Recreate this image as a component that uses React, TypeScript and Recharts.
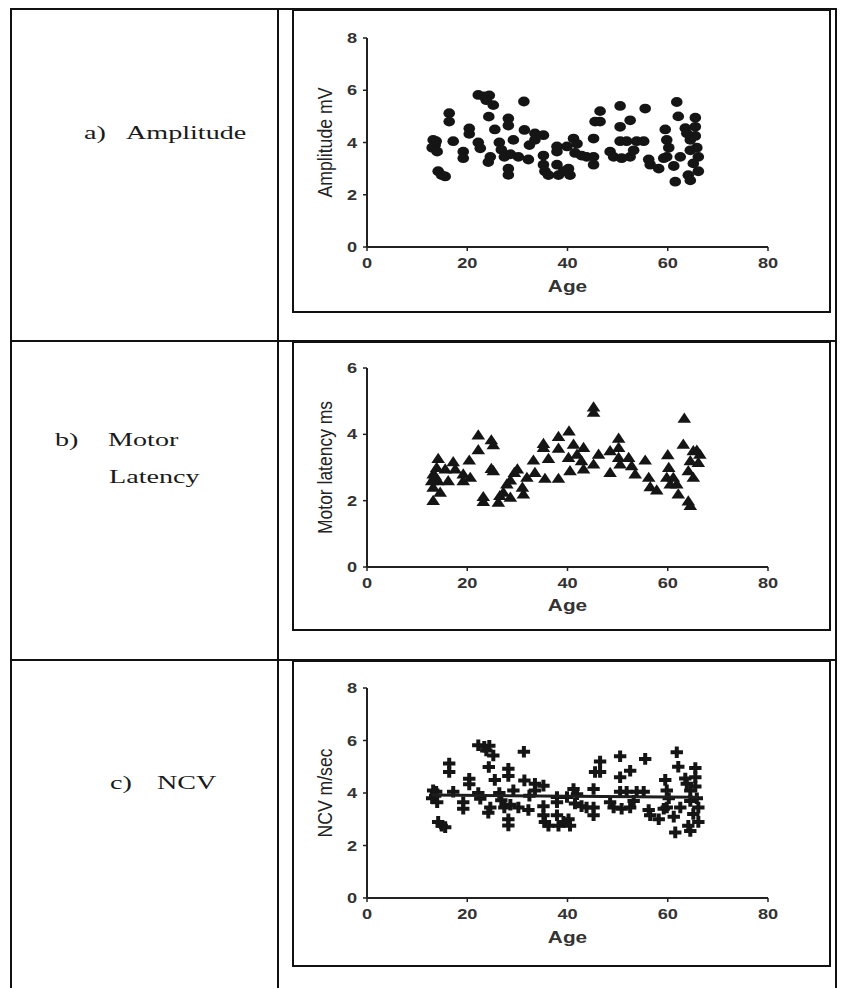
import { ScatterChart, Scatter, XAxis, YAxis } from 'recharts';

// a) amplitude (mV) against age; panel c) plots the same readings
const ampAges = [
  13.2, 13.6, 13.0, 14.0, 13.8, 14.2, 14.9, 15.6, 16.4, 16.4, 17.2, 19.2, 19.2, 20.4, 20.4,
  22.2, 23.4, 24.4, 23.8, 22.2, 22.6, 24.3, 25.2, 25.5, 24.6, 24.2, 26.4, 26.8, 27.4, 28.2,
  28.2, 28.2, 28.2, 29.2, 28.6, 30.2, 31.3, 31.4, 32.4, 32.2, 33.5, 33.5, 35.2, 35.2, 35.2,
  35.5, 36.2, 37.9, 37.9, 37.9, 38.2, 39.2, 40.5, 40.2, 39.9, 41.2, 41.9, 41.5, 42.8, 43.8,
  45.2, 45.2, 45.2, 45.5, 46.5, 46.5, 48.5, 49.2, 50.5, 50.5, 50.5, 50.8, 52.5, 51.8, 52.5,
  53.2, 53.8, 55.2, 55.5, 56.2, 56.5, 58.2, 59.5, 59.8, 60.2, 59.8, 59.2, 61.8, 62.1, 61.2,
  61.5, 62.5, 63.5, 63.8, 64.5, 65.5, 65.5, 65.5, 64.1, 64.5, 66.1, 66.1, 65.1, 64.5, 65.8,
];
const ampValues = [
  4.1, 3.9, 3.8, 3.65, 4.05, 2.9, 2.75, 2.7, 5.12, 4.8, 4.05, 3.65, 3.4, 4.54, 4.33,
  5.82, 5.76, 5.8, 5.62, 4.0, 3.78, 4.99, 5.43, 4.5, 3.45, 3.25, 4.0, 3.72, 3.45, 4.92,
  4.65, 3.0, 2.76, 4.1, 3.55, 3.45, 5.57, 4.48, 3.9, 3.35, 4.35, 4.1, 4.28, 3.5, 3.15,
  2.9, 2.75, 3.85, 3.65, 3.15, 2.75, 2.9, 2.75, 3.0, 3.85, 4.15, 3.95, 3.6, 3.5, 3.45,
  3.45, 3.15, 4.15, 4.8, 4.8, 5.2, 3.65, 3.45, 5.4, 4.6, 4.05, 3.4, 4.85, 4.05, 3.45,
  3.7, 4.05, 4.05, 5.3, 3.35, 3.15, 3.0, 4.5, 4.1, 3.8, 3.45, 3.4, 5.55, 5.0, 3.1,
  2.5, 3.45, 4.55, 4.35, 4.1, 4.95, 4.6, 4.25, 2.75, 2.55, 2.9, 3.45, 3.2, 3.7, 3.8,
];

// b) motor latency (ms) against age
const latAges = [
  13.2, 13.2, 13.2, 13.9, 14.2, 14.2, 14.6, 12.9, 13.6, 15.6, 16.2, 17.2, 17.6, 19.2, 19.2,
  20.4, 20.6, 22.2, 22.2, 23.2, 23.2, 24.8, 25.2, 24.8, 25.2, 26.2, 26.5, 27.2, 27.9, 28.6,
  29.4, 30.0, 28.6, 31.0, 31.2, 31.9, 33.2, 33.5, 35.2, 35.2, 35.5, 36.2, 38.2, 38.2, 38.2,
  40.3, 40.2, 40.5, 41.2, 41.9, 42.8, 43.2, 43.2, 45.2, 45.2, 45.2, 46.2, 48.5, 48.5, 50.2,
  50.2, 50.2, 50.5, 52.2, 52.8, 53.5, 55.5, 56.2, 56.5, 57.8, 60.0, 60.2, 59.8, 60.5, 61.1,
  61.8, 62.1, 63.3, 63.1, 64.1, 64.5, 64.1, 64.5, 65.1, 65.8, 65.1, 66.1, 66.4,
];
const latValues = [
  2.0, 2.4, 2.8, 3.0, 3.27, 2.6, 2.25, 2.6, 2.75, 2.95, 2.6, 3.17, 2.95, 2.8, 2.6,
  3.22, 2.7, 3.98, 3.53, 2.12, 1.97, 3.83, 3.68, 2.97, 2.9, 1.95, 2.15, 2.25, 2.5, 2.62,
  2.85, 2.95, 2.1, 2.4, 2.2, 2.7, 3.22, 2.85, 3.72, 3.6, 2.67, 3.27, 3.93, 3.58, 2.67,
  4.1, 3.3, 2.9, 3.7, 3.4, 3.2, 3.6, 2.95, 4.82, 4.66, 3.1, 3.4, 2.85, 3.5, 3.88,
  3.6, 3.3, 3.1, 3.3, 3.05, 2.8, 3.22, 2.7, 2.42, 2.32, 3.38, 3.0, 2.7, 2.5, 2.7,
  2.5, 2.2, 4.48, 3.7, 1.99, 1.85, 2.9, 3.2, 3.5, 3.52, 2.7, 3.15, 3.4,
];

// c) NCV (m/sec) against age, same readings as panel a), plus its fitted line
const ncvAges = ampAges;
const ncvValues = ampValues;
const ncvFitAges = [13, 66];
const ncvFitValues = [3.92, 3.84];

const ageTicks = [0, 20, 40, 60, 80];
const ampTicks = [0, 2, 4, 6, 8];
const latTicks = [0, 2, 4, 6];

const toPoints = (xs: number[], ys: number[]) => xs.map((age, i) => ({ age, value: ys[i] }));

const sans = 'Liberation Sans, Arial, sans-serif';
const serif = 'Liberation Serif, Times New Roman, serif';
const ink = '#151515';

const DotShape = (p: any) => <ellipse cx={p.cx} cy={p.cy} rx={5.8} ry={4.9} fill={ink} />;
const TriShape = (p: any) => (
  <polygon points={`${p.cx},${p.cy - 5.8} ${p.cx - 6.8},${p.cy + 4.4} ${p.cx + 6.8},${p.cy + 4.4}`} fill={ink} />
);
const PlusShape = (p: any) => (
  <path
    d={`M${p.cx - 2},${p.cy - 5.8}h4v3.8h4.2v4h-4.2v3.8h-4v-3.8h-4.2v-4h4.2z`}
    fill={ink}
  />
);
const NoShape = () => <g />;

const XTick = (p: any) => (
  <g transform={`translate(${p.x},${p.y}) scale(1.3,1)`}>
    <text x={0} y={0} dy="0.72em" textAnchor="middle" fontFamily={sans} fontWeight="bold" fontSize={14} fill="#333">
      {p.payload.value}
    </text>
  </g>
);
const YTick = (p: any) => (
  <g transform={`translate(${p.x},${p.y}) scale(1.3,1)`}>
    <text x={0} y={0} dy="0.36em" textAnchor="end" fontFamily={sans} fontWeight="bold" fontSize={14} fill="#333">
      {p.payload.value}
    </text>
  </g>
);

const yTitle = (text: string, len: number) => (props: any) => {
  const vb = props.viewBox;
  const cx = vb.x + vb.width - 42;
  const cy = vb.y + vb.height / 2;
  return (
    <g transform={`translate(${cx},${cy}) scale(1.3,1) rotate(-90)`}>
      <text x={0} y={0} dy="0.36em" textAnchor="middle" textLength={len} lengthAdjust="spacingAndGlyphs"
        fontFamily={sans} fontSize={15} fill="#222">
        {text}
      </text>
    </g>
  );
};

const xTitle = (drop: number) => (props: any) => {
  const vb = props.viewBox;
  return (
    <g transform={`translate(${vb.x + vb.width / 2},${vb.y + drop}) scale(1.3,1)`}>
      <text x={0} y={0} textAnchor="middle" fontFamily={sans} fontWeight="bold" fontSize={16} fill="#333">
        Age
      </text>
    </g>
  );
};

const axisLine = { stroke: '#222', strokeWidth: 2 };
const tickLine = { stroke: '#222', strokeWidth: 1.5 };

type PanelProps = {
  top: number;
  height: number;
  plotTop: number;
  xAxisH: number;
  yMax: number;
  yTicks: number[];
  yLabel: string;
  yLabelLen: number;
  ageDrop: number;
  data: { age: number; value: number }[];
  shape: (p: any) => any;
  fit?: { age: number; value: number }[];
};

function Panel(props: PanelProps) {
  return (
    <div style={{ position: 'absolute', left: 293, top: props.top, width: 538, height: props.height }}>
      <ScatterChart width={538} height={props.height} margin={{ top: props.plotTop, right: 63, bottom: 0, left: 0 }}>
        <XAxis type="number" dataKey="age" domain={[0, 80]} ticks={ageTicks} height={props.xAxisH}
          axisLine={axisLine} tickLine={tickLine} tickSize={4} tickMargin={7} tick={<XTick />}
          label={{ content: xTitle(props.ageDrop) } as any} />
        <YAxis type="number" dataKey="value" domain={[0, props.yMax]} ticks={props.yTicks} width={74}
          axisLine={axisLine} tickLine={tickLine} tickSize={4} tickMargin={6} tick={<YTick />}
          label={{ content: yTitle(props.yLabel, props.yLabelLen) } as any} />
        <Scatter data={props.data} shape={props.shape} isAnimationActive={false} />
        {props.fit && (
          <Scatter data={props.fit} shape={NoShape} line={{ stroke: '#1e1e1e', strokeWidth: 3 }}
            isAnimationActive={false} />
        )}
      </ScatterChart>
    </div>
  );
}

const line = (left: number, top: number, width: number, height: number) => (
  <div style={{ position: 'absolute', left, top, width, height, background: '#111' }} />
);
const box = (top: number, height: number) => (
  <div style={{ position: 'absolute', left: 292, top, width: 539, height, border: '2px solid #111', boxSizing: 'border-box' }} />
);

const labelStyle = (left: number, top: number): any => ({
  position: 'absolute', left, top, fontFamily: serif, fontSize: 19, lineHeight: '20px', color: '#1a1a1a',
  whiteSpace: 'pre', transform: 'scaleX(1.48)', transformOrigin: 'left center',
});

export default function App() {
  return (
    <div style={{ position: 'absolute', left: 0, top: 0, width: 841, height: 988, background: '#fff', overflow: 'hidden' }}>
      {line(10, 8, 827, 2)}
      {line(10, 8, 2, 980)}
      {line(277, 8, 2, 980)}
      {line(835, 8, 2, 980)}
      {line(10, 340, 827, 2)}
      {line(10, 659, 827, 2)}
      {box(9, 304)}
      {box(341, 290)}
      {box(660, 307)}

      <div style={labelStyle(84, 123)}>a)</div>
      <div style={labelStyle(126, 123)}>Amplitude</div>
      <div style={labelStyle(55, 430)}>b)</div>
      <div style={labelStyle(108, 430)}>Motor</div>
      <div style={labelStyle(109, 467)}>Latency</div>
      <div style={labelStyle(110, 773)}>c)</div>
      <div style={labelStyle(157, 773)}>NCV</div>

      <Panel top={9} height={303} plotTop={29} xAxisH={65} yMax={8} yTicks={ampTicks}
        yLabel="Amplitude mV" yLabelLen={110} ageDrop={45}
        data={toPoints(ampAges, ampValues)} shape={DotShape} />
      <Panel top={341} height={289} plotTop={27} xAxisH={63} yMax={6} yTicks={latTicks}
        yLabel="Motor latency ms" yLabelLen={133} ageDrop={44}
        data={toPoints(latAges, latValues)} shape={TriShape} />
      <Panel top={660} height={306} plotTop={28} xAxisH={68} yMax={8} yTicks={ampTicks}
        yLabel="NCV m/sec" yLabelLen={89} ageDrop={45}
        data={toPoints(ncvAges, ncvValues)} shape={PlusShape}
        fit={toPoints(ncvFitAges, ncvFitValues)} />
    </div>
  );
}
